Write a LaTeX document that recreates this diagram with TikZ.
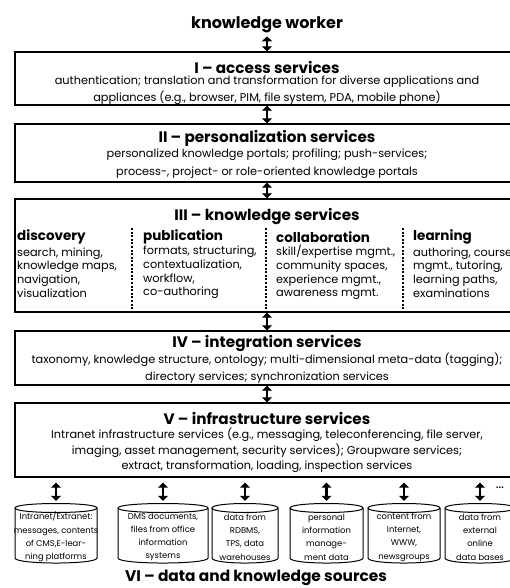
\documentclass[tikz,border=0pt]{standalone}
\usepackage{fontspec}
\setmainfont{Poppins}
\usetikzlibrary{positioning, arrows.meta}

\begin{document}
\begin{tikzpicture}[x=1pt, y=-1pt,
    layer/.style={draw, line width=1.3pt, minimum width=504pt, inner sep=0pt},
    heading/.style={inner sep=0pt, font=\bfseries\fontsize{15.2}{18}\selectfont},
    body/.style={align=center, inner sep=0pt, font=\fontsize{11.3}{17}\selectfont},
    colhead/.style={anchor=west, inner sep=0pt, font=\bfseries\fontsize{13.5}{15}\selectfont},
    coltext/.style={anchor=west, align=left, inner sep=0pt, font=\fontsize{11.3}{13.7}\selectfont},
    source/.style={minimum height=68pt, inner sep=0pt, align=center, font=\fontsize{8.4}{13.3}\selectfont},
    link/.style={{Triangle[length=5pt,width=10pt]}-{Triangle[length=5pt,width=10pt]}, line width=2.8pt},
    colsep/.style={line width=1.2pt, dash pattern=on 2pt off 1.6pt}]
  \useasboundingbox (0,0) rectangle (509,588);

  % user on top
  \node[heading, font=\bfseries\fontsize{16}{18}\selectfont] (worker) at (267,25) {knowledge worker};

  % I
  \node[layer, minimum height=53pt] (access) at (267,78.5) {};
  \node[heading] (accesstitle) at (267,67) {I -- access services};
  \node[body] (accesstext) at (267,90.5) {authentication; translation and transformation for diverse applications and\\
    appliances (e.g., browser, PIM, file system, PDA, mobile phone)};

  % II
  \node[layer, minimum height=58pt] (personal) at (267,153) {};
  \node[heading] (personaltitle) at (267,138) {II -- personalization services};
  \node[body, font=\fontsize{11.3}{18}\selectfont] (personaltext) at (267,164) {personalized knowledge portals; profiling; push-services;\\
    process-, project- or role-oriented knowledge portals};

  % III
  \node[layer, minimum height=113pt] (knowledge) at (267,255.5) {};
  \node[heading] (knowledgetitle) at (267,217) {III -- knowledge services};
  \node[colhead] (discovery) at (17,237) {discovery};
  \node[coltext] (discoverytext) at (17,272.5) {search, mining,\\knowledge maps,\\navigation,\\visualization};
  \node[colhead] (publication) at (143,237) {publication};
  \node[coltext] (publicationtext) at (143,272.5) {formats, structuring,\\contextualization,\\workflow,\\co-authoring};
  \node[colhead] (collaboration) at (276,237) {collaboration};
  \node[coltext] (collaborationtext) at (276,272.5) {skill/expertise mgmt.,\\community spaces,\\experience mgmt.,\\awareness mgmt.};
  \node[colhead] (learning) at (413,237) {learning};
  \node[coltext] (learningtext) at (413,272.5) {authoring, course\\mgmt., tutoring,\\learning paths,\\examinations};
  \draw[colsep] (132,228) -- (132,312);
  \draw[colsep] (266,228) -- (266,312);
  \draw[colsep] (403,228) -- (403,312);

  % IV
  \node[layer, minimum height=54pt] (integration) at (267,358) {};
  \node[heading] (integrationtitle) at (267,343) {IV -- integration services};
  \node[body] (integrationtext) at (267,368.5) {taxonomy, knowledge structure, ontology; multi-dimensional meta-data (tagging);\\
    directory services; synchronization services};

  % V
  \node[layer, minimum height=74pt] (infra) at (267,440) {};
  \node[heading] (infratitle) at (267,418) {V -- infrastructure services};
  \node[body, font=\fontsize{11.3}{15.5}\selectfont] (infratext) at (267,450.5) {Intranet infrastructure services (e.g., messaging, teleconferencing, file server,\\
    imaging, asset management, security services); Groupware services;\\
    extract, transformation, loading, inspection services};

  % VI
  \foreach \cx/\cw in {56/82, 163/90, 245/66, 326.5/73, 404/72, 480/70} {
    \draw[line width=1pt] (\cx-\cw/2,508) -- (\cx-\cw/2,558)
      .. controls (\cx-\cw/2,564.7) and (\cx+\cw/2,564.7) .. (\cx+\cw/2,558) -- (\cx+\cw/2,508);
    \draw[line width=1pt] (\cx-\cw/2,508) .. controls (\cx-\cw/2,502) and (\cx+\cw/2,502) .. (\cx+\cw/2,508)
      .. controls (\cx+\cw/2,514) and (\cx-\cw/2,514) .. cycle;
  }
  \node[source] (src1) at (56,537) {Intranet/Extranet:\\messages, contents\\of CMS,E-lear-\\ning platforms};
  \node[source] (src2) at (163,537) {DMS documents,\\files from office\\information\\systems};
  \node[source] (src3) at (245,537) {data from\\RDBMS,\\TPS, data\\warehouses};
  \node[source] (src4) at (326.5,537) {personal\\information\\manage-\\ment data};
  \node[source] (src5) at (404,537) {content from\\Internet,\\WWW,\\newsgroups};
  \node[source] (src6) at (480,537) {data from\\external\\online\\data bases};
  \node[inner sep=0pt, font=\fontsize{14}{16}\selectfont] (more) at (500,488) {\dots};
  \node[heading, font=\bfseries\fontsize{15.4}{18}\selectfont] (sources) at (256,578) {VI -- data and knowledge sources};

  % connectors
  \draw[link, shorten <=3pt] (worker) -- (access);
  \draw[link] (access) -- (personal);
  \draw[link] (personal) -- (knowledge);
  \draw[link] (knowledge) -- (integration);
  \draw[link] (integration) -- (infra);
  \foreach \s in {src1,src2,src3,src4,src5,src6}
    \draw[link, shorten <=5pt, shorten >=2pt] (\s.north |- infra.south) -- (\s.north);
\end{tikzpicture}
\end{document}
